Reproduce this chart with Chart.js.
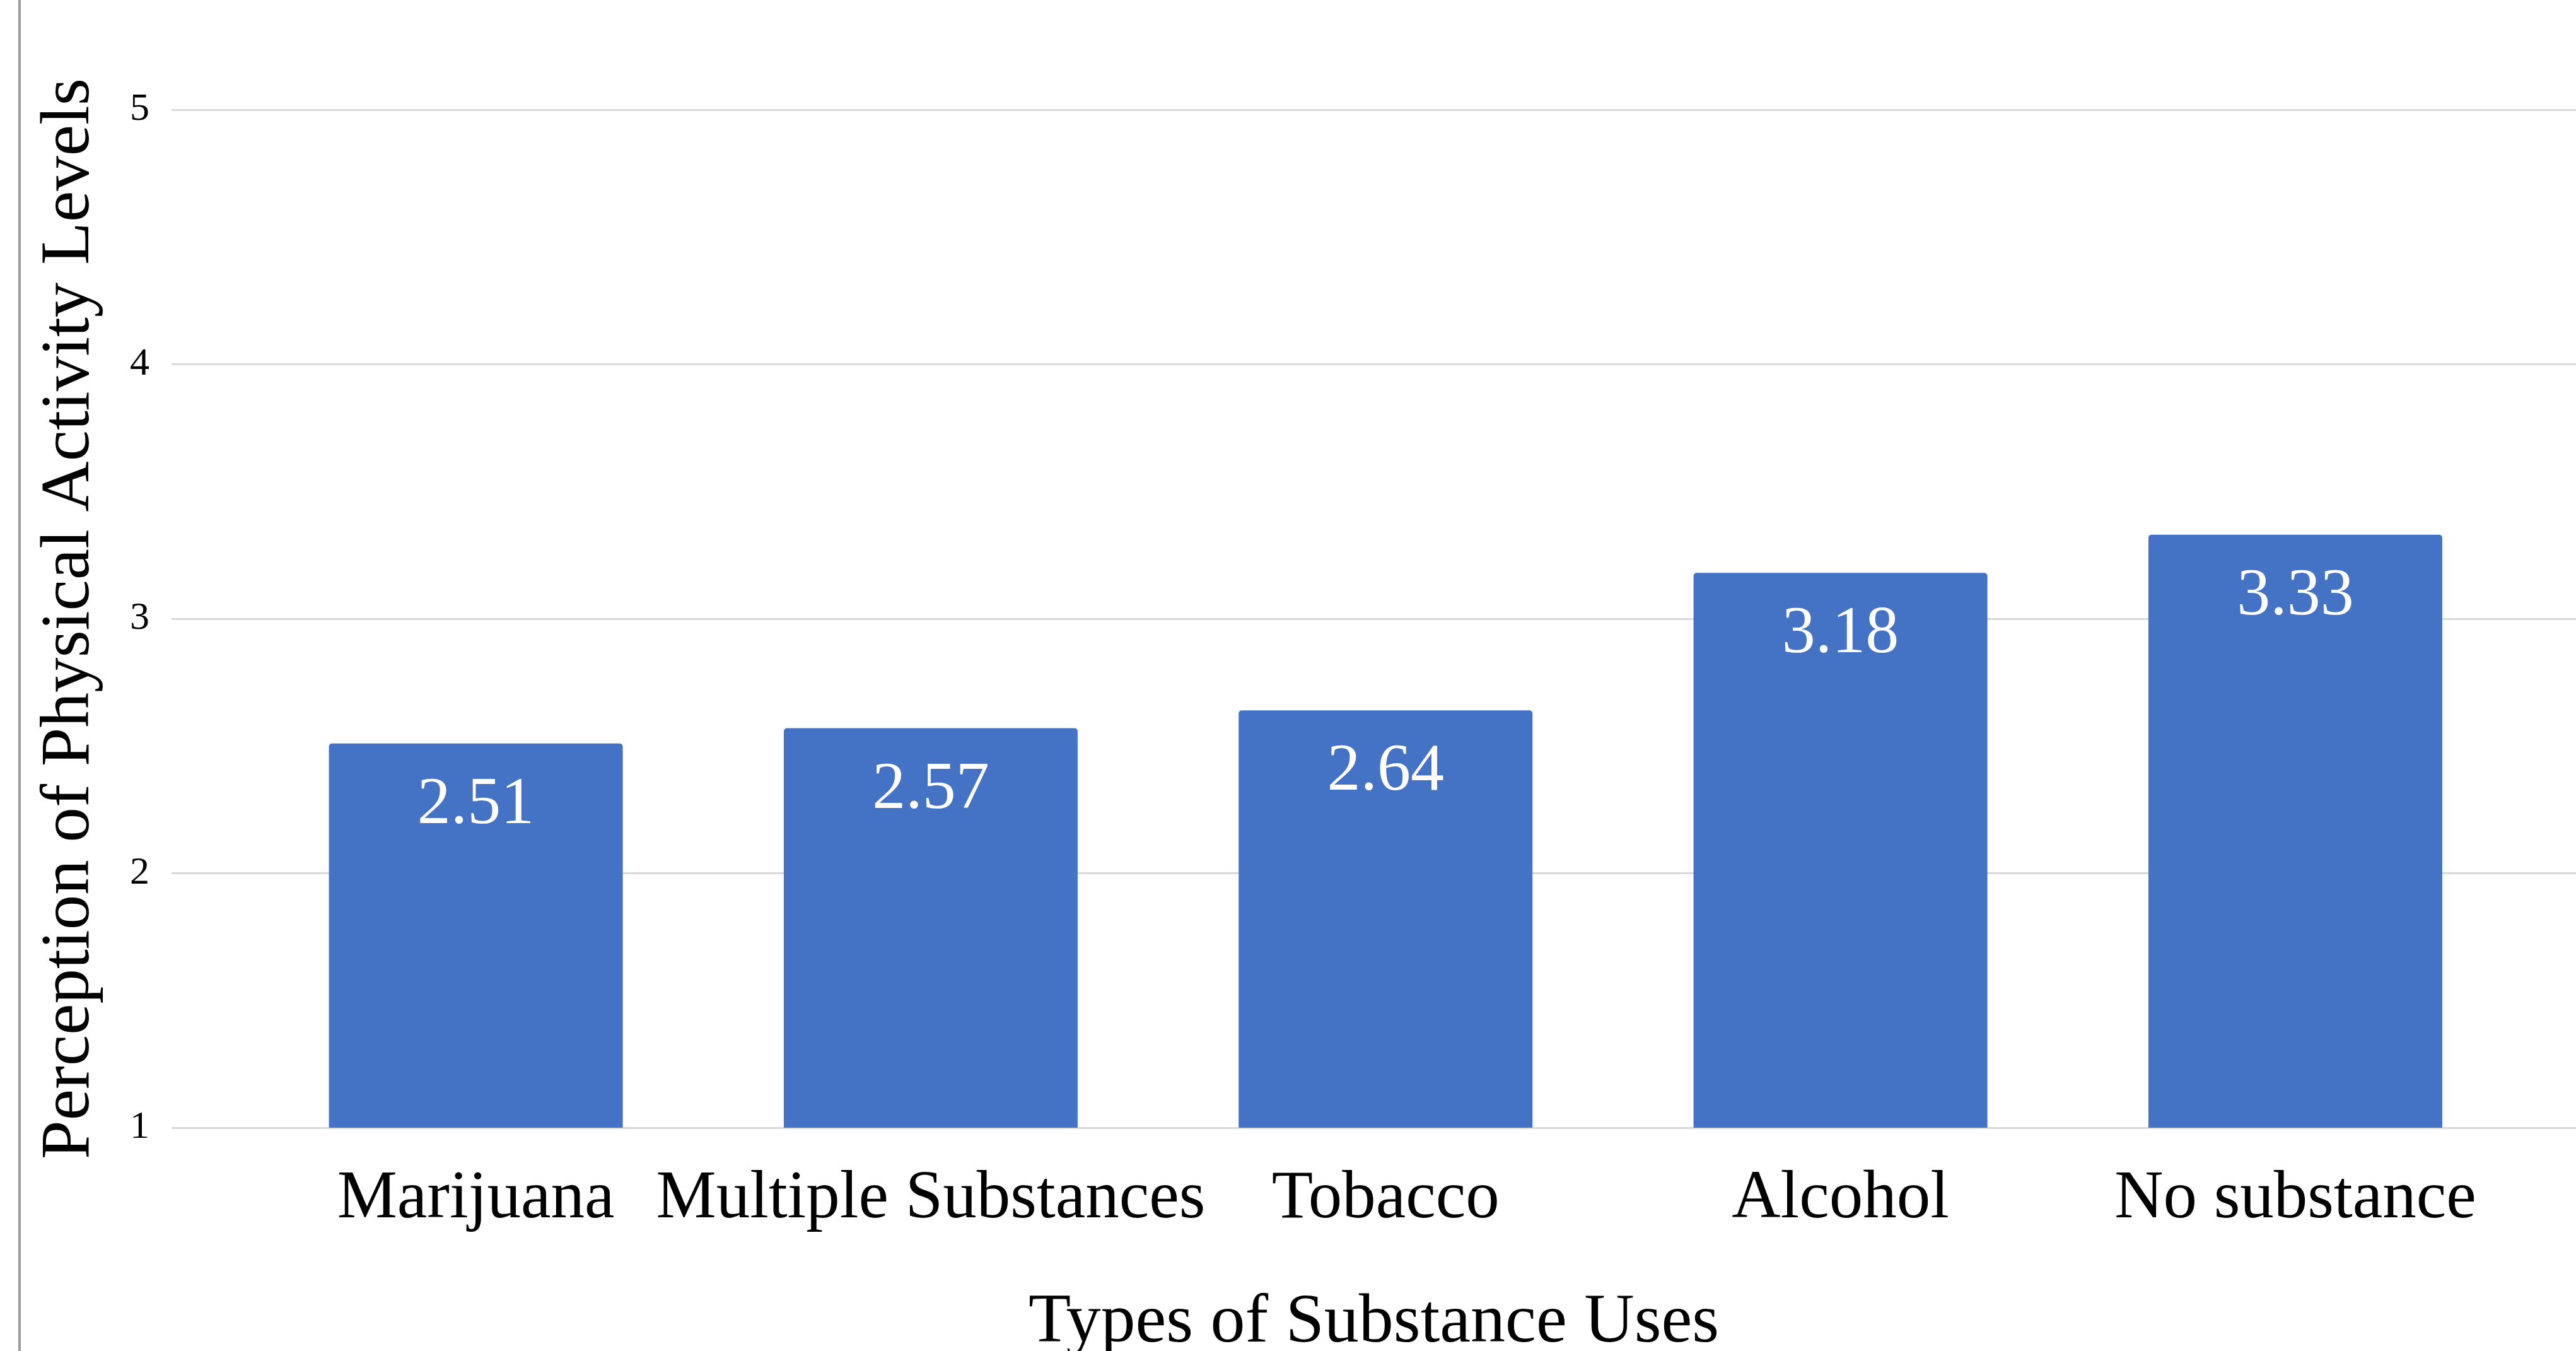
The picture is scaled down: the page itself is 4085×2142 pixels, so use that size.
<!DOCTYPE html>
<html>
<head>
<meta charset="utf-8">
<title>Perception of Physical Activity Levels by Substance Use</title>
<script src="https://cdn.jsdelivr.net/npm/chart.js@4/dist/chart.umd.min.js"></script>
<style>
  html, body { margin: 0; padding: 0; background: #ffffff; }
  canvas { display: block; }
</style>
</head>
<body>
<canvas id="chart" width="4085" height="2142"></canvas>
<script>
// Category names along the x axis
const categories = ['Marijuana', 'Multiple Substances', 'Tobacco', 'Alcohol', 'No substance'];
// Mean perception score for each category
const scores = [2.51, 2.57, 2.64, 3.18, 3.33];
// Y axis range and step
const yTicks = [1, 2, 3, 4, 5];

const SERIF = '"Liberation Serif", "Times New Roman", Times, serif';
const BAR_BLUE = '#4472C4';

// Value labels written inside the top of each bar
const barValueLabels = {
  id: 'barValueLabels',
  afterDatasetsDraw(chart) {
    const ctx = chart.ctx;
    const meta = chart.getDatasetMeta(0);
    ctx.save();
    ctx.fillStyle = '#ffffff';
    ctx.font = '106px ' + SERIF;
    ctx.textAlign = 'center';
    ctx.textBaseline = 'alphabetic';
    meta.data.forEach((bar, i) => {
      ctx.fillText(scores[i].toFixed(2), bar.x, bar.y + 126);
    });
    ctx.restore();
  }
};

// Thin frame edge along the left side of the figure
const leftFrame = {
  id: 'leftFrame',
  beforeDraw(chart) {
    const ctx = chart.ctx;
    ctx.save();
    ctx.fillStyle = '#ffffff';
    ctx.fillRect(0, 0, chart.width, chart.height);
    ctx.strokeStyle = '#9a9a9a';
    ctx.lineWidth = 4;
    ctx.beginPath();
    ctx.moveTo(31, 0);
    ctx.lineTo(31, chart.height);
    ctx.stroke();
    ctx.restore();
  }
};

new Chart(document.getElementById('chart'), {
  type: 'bar',
  data: {
    datasets: [{
      data: scores.map((v, i) => ({ x: i, y: v })),
      backgroundColor: BAR_BLUE,
      borderWidth: 0,
      borderRadius: { topLeft: 5, topRight: 5, bottomLeft: 0, bottomRight: 0 },
      borderSkipped: 'start',
      categoryPercentage: 1.0,
      barPercentage: 0.646
    }]
  },
  plugins: [leftFrame, barValueLabels],
  options: {
    responsive: false,
    devicePixelRatio: 1,
    animation: false,
    layout: { padding: { top: 174, left: 0, right: 0, bottom: 0 } },
    plugins: {
      legend: { display: false },
      tooltip: { enabled: false },
      title: { display: false }
    },
    scales: {
      x: {
        type: 'linear',
        min: -0.669,
        max: 4.617,
        offset: false,
        grid: { display: false, drawTicks: false },
        border: { display: false },
        ticks: {
          stepSize: 1,
          includeBounds: false,
          autoSkip: false,
          maxRotation: 0,
          minRotation: 0,
          padding: 50,
          color: '#000000',
          font: { family: SERIF, size: 107, lineHeight: 1.2 },
          callback: (v) => (Number.isInteger(v) && categories[v] !== undefined ? categories[v] : '')
        },
        title: {
          display: true,
          text: 'Types of Substance Uses',
          color: '#000000',
          font: { family: SERIF, size: 110, lineHeight: 0.8 },
          padding: { top: 0, bottom: 0 }
        },
        afterFit(scale) { scale.height = 354; }
      },
      y: {
        min: yTicks[0],
        max: yTicks[yTicks.length - 1],
        grid: { color: '#d9d9d9', lineWidth: 3, drawTicks: false },
        border: { display: false },
        ticks: {
          stepSize: 1,
          padding: 35,
          color: '#000000',
          font: { family: SERIF, size: 62 },
          callback: (v) => (yTicks.includes(v) ? String(v) : '')
        },
        title: {
          display: true,
          text: 'Perception of Physical Activity Levels',
          color: '#000000',
          font: { family: SERIF, size: 111, lineHeight: 1.2 },
          padding: { top: 44, bottom: 0 }
        },
        afterFit(scale) { scale.width = 272; }
      }
    }
  }
});
</script>
</body>
</html>
